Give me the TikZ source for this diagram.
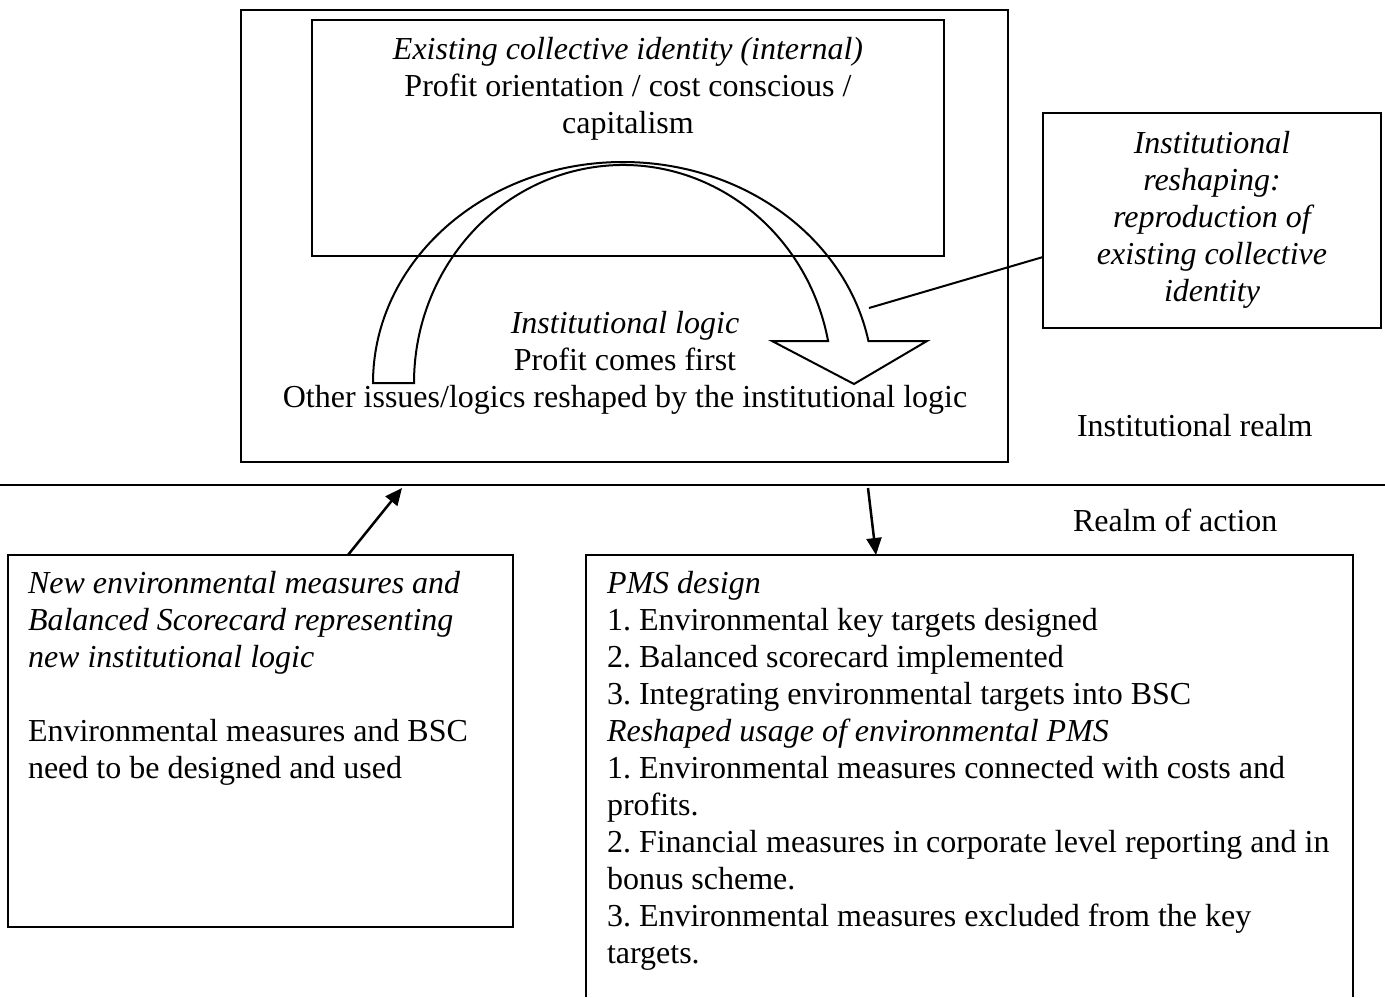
\documentclass[tikz,border=0pt]{standalone}
\usepackage{fontspec}
\setmainfont{Liberation Serif}
\usetikzlibrary{arrows.meta,calc}
\frenchspacing
\begin{document}
\begin{tikzpicture}[x=1pt,y=1pt,
  box/.style={draw,line width=2pt,inner sep=0pt,outer sep=0pt},
  txt/.style={inner sep=0pt,outer sep=0pt,font=\fontsize{32}{37}\selectfont},
  arr/.style={line width=2.5pt,-{Triangle[length=17pt,width=15pt]}},
  thin/.style={line width=2pt}]
\useasboundingbox (0,0) rectangle (1385,-997);
% boxes
\node[box,minimum width=767pt,minimum height=452pt,anchor=north west] (big) at (241,-10) {};
\node[box,minimum width=632pt,minimum height=236pt,anchor=north west] (inner) at (312,-20) {};
\node[box,minimum width=338pt,minimum height=215pt,anchor=north west] (rbox) at (1043,-113) {};
\node[box,minimum width=505pt,minimum height=372pt,anchor=north west] (lbox) at (8,-555) {};
\node[inner sep=0pt,outer sep=0pt,minimum width=767pt,minimum height=442pt,anchor=north west] (pms) at (586,-555) {};
\draw[thin] (pms.south west) -- (pms.north west) -- (pms.north east) -- (pms.south east);
% realm divider
\coordinate (divL) at (0,-485);
\coordinate (divR) at (1385,-485);
\draw[thin] (divL) -- (divR);
% texts
\node[txt,align=center,anchor=north] (tinner) at (628,-37) {\itshape Existing collective identity (internal)\\Profit orientation / cost conscious /\\capitalism};
\node[txt,align=center,anchor=north] (tlogic) at (625,-311) {\itshape Institutional logic\\Profit comes first\\Other issues/logics reshaped by the institutional logic};
\node[txt,align=center,anchor=north,font=\fontsize{32}{37}\selectfont\itshape] (trbox) at (1212,-131) {Institutional\\reshaping:\\reproduction of\\existing collective\\identity};
\node[txt,anchor=base west] (trealm) at (1077,-436) {Institutional realm};
\node[txt,anchor=base west] (taction) at (1073,-531) {Realm of action};
\node[txt,align=left,anchor=north west] (tlbox) at (28,-571) {\itshape New environmental measures and\\\itshape Balanced Scorecard representing\\\itshape new institutional logic\\[37pt]Environmental measures and BSC\\need to be designed and used};
\node[txt,align=left,anchor=north west] (tpms) at (607,-571) {\itshape PMS design\\1. Environmental key targets designed\\2. Balanced scorecard implemented\\3. Integrating environmental targets into BSC\\\itshape Reshaped usage of environmental PMS\\1. Environmental measures connected with costs and\\profits.\\2. Financial measures in corporate level reporting and in\\bonus scheme.\\3. Environmental measures excluded from the key\\targets.};
% curved arrow
\draw[thin,line join=miter] (373,-383) arc[start angle=180,end angle=10.955,x radius=250,y radius=221]
  -- (927,-341) -- (854,-384) -- (772,-341) -- (828.09,-341)
  arc[start angle=11.108,end angle=180,x radius=209,y radius=218] -- cycle;
% connector to reshaping box
\coordinate (arcpt) at (869,-308);
\draw[thin] (arcpt) -- ([yshift=-36.5pt]rbox.west);
% arrows between realms
\coordinate (upend) at (402,-488);
\draw[arr] ([xshift=340pt]lbox.north west) -- (upend);
\coordinate (downstart) at (868,-488);
\draw[arr] (downstart) -- ([xshift=290pt]pms.north west);
\end{tikzpicture}
\end{document}
